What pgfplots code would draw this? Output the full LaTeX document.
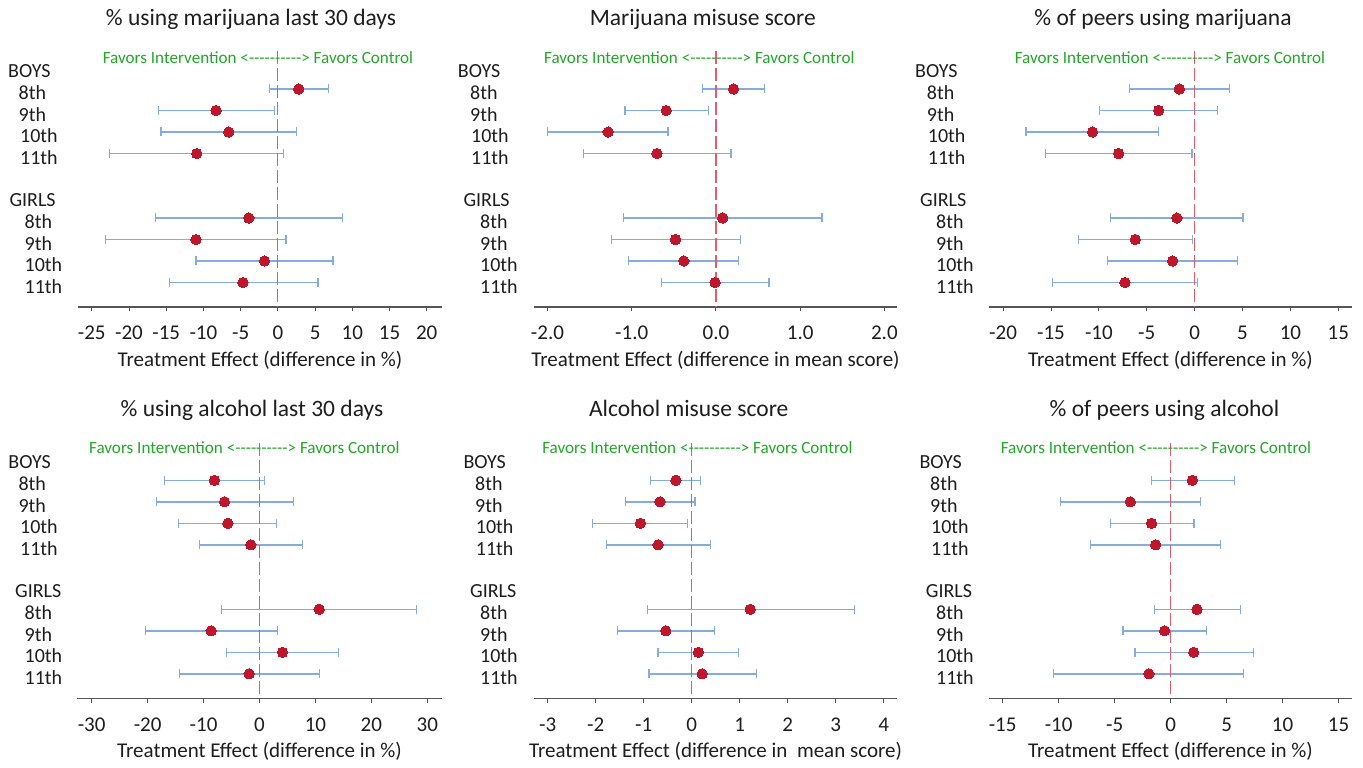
\documentclass[border=0pt]{standalone}
\usepackage{fontspec}
\setmainfont{Carlito}
\usepackage{pgfplots}
\usepackage{pgfplotstable}
\pgfplotsset{compat=1.18}
\definecolor{barblue}{RGB}{132,172,222}
\definecolor{dotred}{RGB}{190,22,42}
\definecolor{zerored}{RGB}{226,92,110}
\definecolor{favgreen}{RGB}{34,168,40}
\definecolor{axgray}{RGB}{85,85,85}
\definecolor{txt}{RGB}{30,30,30}

\pgfplotstableread{
row est lo hi
0 2.8 -1.1 6.8
-1 -8.3 -16.0 -0.45
-2 -6.6 -15.7 2.5
-3 -10.9 -22.6 0.8
-6 -3.9 -16.4 8.7
-7 -11.0 -23.2 1.1
-8 -1.8 -11.0 7.4
-9 -4.7 -14.6 5.4
}\tA
\pgfplotstableread{
row est lo hi
0 0.21 -0.16 0.58
-1 -0.59 -1.08 -0.09
-2 -1.28 -2.00 -0.57
-3 -0.70 -1.57 0.18
-6 0.08 -1.10 1.26
-7 -0.48 -1.24 0.29
-8 -0.38 -1.04 0.27
-9 -0.01 -0.65 0.63
}\tB
\pgfplotstableread{
row est lo hi
0 -1.6 -6.8 3.66
-1 -3.76 -9.93 2.37
-2 -10.66 -17.6 -3.76
-3 -7.94 -15.57 -0.28
-6 -1.85 -8.78 5.05
-7 -6.2 -12.16 -0.21
-8 -2.3 -9.09 4.46
-9 -7.28 -14.84 0.31
}\tC
\pgfplotstableread{
row est lo hi
0 -8.05 -17.0 0.9
-1 -6.26 -18.4 6.08
-2 -5.66 -14.5 3.1
-3 -1.55 -10.7 7.75
-6 10.67 -6.73 28.0
-7 -8.64 -20.4 3.28
-8 4.11 -5.9 14.18
-9 -1.85 -14.36 10.79
}\tD
\pgfplotstableread{
row est lo hi
0 -0.33 -0.855 0.18
-1 -0.66 -1.38 0.07
-2 -1.07 -2.06 -0.08
-3 -0.70 -1.77 0.39
-6 1.22 -0.92 3.39
-7 -0.54 -1.55 0.47
-8 0.14 -0.70 0.98
-9 0.22 -0.89 1.35
}\tE
\pgfplotstableread{
row est lo hi
0 1.94 -1.70 5.69
-1 -3.60 -9.80 2.65
-2 -1.70 -5.39 2.09
-3 -1.34 -7.15 4.47
-6 2.35 -1.46 6.23
-7 -0.54 -4.26 3.19
-8 2.06 -3.19 7.39
-9 -1.94 -10.43 6.52
}\tF

\pgfplotsset{
 fp/.style={
  scale only axis, height=261pt, ymin=-10.14, ymax=2,
  anchor=south west,
  axis y line=none, axis x line*=bottom,
  x axis line style={draw=axgray, line width=1.1pt},
  tick align=outside, major tick length=4.5pt,
  xtick style={draw=axgray, line width=0.9pt},
  xticklabel style={font=\fontsize{21}{24}\selectfont, text=txt, anchor=base, inner sep=0pt, yshift=-28.5pt},
  xlabel style={font=\fontsize{21}{24}\selectfont, text=txt, at={(axis description cs:0.5,0)}, anchor=base, inner sep=0pt, yshift=-59.5pt},
  /pgf/number format/assume math mode=true,
  clip=false,
 },
 bars/.style={only marks, mark=none, error bars/.cd, x dir=both, x explicit,
   error mark=|,
   error bar style={draw=barblue, line width=1.5pt},
   error mark options={draw=barblue, line width=1.2pt, mark size=4.5pt}},
 dots/.style={only marks, mark=*, mark size=5.2pt, mark options={fill=dotred, draw=dotred, line width=0pt}},
 zl/.style={draw=zerored, line width=1.2pt, dash pattern=on 13pt off 4pt, mark=none},
}
\newcommand\ci[1]{%
 \addplot[bars] table[x=est, y=row, x error plus expr=\thisrow{hi}-\thisrow{est}, x error minus expr=\thisrow{est}-\thisrow{lo}] {#1};
}
\newcommand\pts[1]{\addplot[dots] table[x=est,y=row] {#1};}
\def\dsh{-\kern0pt}
\newcommand\favtext{Favors Intervention <\dsh\dsh\dsh\dsh\dsh\dsh\dsh\dsh\dsh\dsh> Favors Control}

\newcommand\grades[6]{%
  \node[lab] at (#1,#6-12) {BOYS};
  \node[lab] at (#2,#6+10.5) {8th};
  \node[lab] at (#2,#6+32) {9th};
  \node[lab] at (#3,#6+53.5) {10th};
  \node[lab] at (#3,#6+75) {11th};
  \node[lab] at (#4,#6+117) {GIRLS};
  \node[lab] at (#5,#6+139.5) {8th};
  \node[lab] at (#5,#6+161) {9th};
  \node[lab] at (#5,#6+182.5) {10th};
  \node[lab] at (#5,#6+204) {11th};
}

\begin{document}
\begin{tikzpicture}[x=1pt,y=1pt,
  lab/.style={anchor=base west, inner sep=0pt, font=\fontsize{20}{24}\selectfont, text=txt},
  ttl/.style={anchor=base, inner sep=0pt, font=\fontsize{23.5}{28}\selectfont, text=txt},
  fav/.style={anchor=base, inner sep=0pt, font=\fontsize{17.1}{20}\selectfont, text=favgreen}]
\useasboundingbox[fill=white] (0pt,0pt) rectangle (1363pt,768pt);

% top row
\begin{axis}[fp, at={(78pt,461pt)}, width=364pt, xmin=-26.85, xmax=22.05, xtick={-25,-20,...,20},
  xlabel={Treatment Effect (difference in \%)}]
\ci{\tA}
\addplot[zl] coordinates {(0,1.75) (0,-10.14)};
\pts{\tA}
\end{axis}
\begin{axis}[fp, at={(534pt,461pt)}, width=363pt, xmin=-2.16, xmax=2.15, xtick={-2,-1,0,1,2},
  xticklabel style={/pgf/number format/.cd, fixed, fixed zerofill, precision=1},
  xlabel={Treatment Effect (difference in mean score)}]
\ci{\tB}
\addplot[zl] coordinates {(0,1.75) (0,-10.14)};
\pts{\tB}
\end{axis}
\begin{axis}[fp, at={(989pt,461pt)}, width=363pt, xmin=-21.47, xmax=16.43, xtick={-20,-15,...,15},
  xlabel={Treatment Effect (difference in \%)}]
\ci{\tC}
\addplot[zl] coordinates {(0,1.75) (0,-10.14)};
\pts{\tC}
\end{axis}

% bottom row
\begin{axis}[fp, at={(77.3pt,69.7pt)}, width=364.4pt, xmin=-32.57, xmax=32.57, xtick={-30,-20,...,30},
  xlabel={Treatment Effect (difference in \%)}]
\ci{\tD}
\addplot[zl] coordinates {(0,1.72) (0,-10.14)};
\pts{\tD}
\end{axis}
\begin{axis}[fp, at={(534pt,69.7pt)}, width=363pt, xmin=-3.286, xmax=4.279, xtick={-3,-2,...,4},
  xlabel={Treatment Effect (difference in \ mean score)}]
\ci{\tE}
\addplot[zl] coordinates {(0,1.72) (0,-10.14)};
\pts{\tE}
\end{axis}
\begin{axis}[fp, at={(989pt,69.7pt)}, width=363pt, xmin=-16.22, xmax=16.2, xtick={-15,-10,...,15},
  xlabel={Treatment Effect (difference in \%)}]
\ci{\tF}
\addplot[zl] coordinates {(0,1.72) (0,-10.14)};
\pts{\tF}
\end{axis}

\begin{scope}[yshift=768pt, yscale=-1]
  \node[ttl] at (251,26) {\% using marijuana last 30 days};
  \node[ttl] at (702.8,26) {Marijuana misuse score};
  \node[ttl] at (1163,26) {\% of peers using marijuana};
  \node[ttl] at (252,416.7) {\% using alcohol last 30 days};
  \node[ttl] at (688.7,416.7) {Alcohol misuse score};
  \node[ttl] at (1164.5,416.7) {\% of peers using alcohol};
  \node[fav] at (258,63.3) {\favtext};
  \node[fav] at (699.3,63.3) {\favtext};
  \node[fav] at (1170,63.3) {\favtext};
  \node[fav] at (244.3,453.3) {\favtext};
  \node[fav] at (697.5,453.3) {\favtext};
  \node[fav] at (1156,453.3) {\favtext};
  \grades{8}{18.5}{20}{9.3}{24.5}{89.3}
  \grades{457.7}{470}{471}{463.3}{480}{89.3}
  \grades{915}{926.7}{927.7}{920}{936}{89.3}
  \grades{8.3}{18.3}{20}{15}{24.5}{480.3}
  \grades{463.3}{475}{475.7}{470}{480}{480.3}
  \grades{919.3}{930}{931}{925.7}{936}{480.3}
\end{scope}
\end{tikzpicture}
\end{document}
